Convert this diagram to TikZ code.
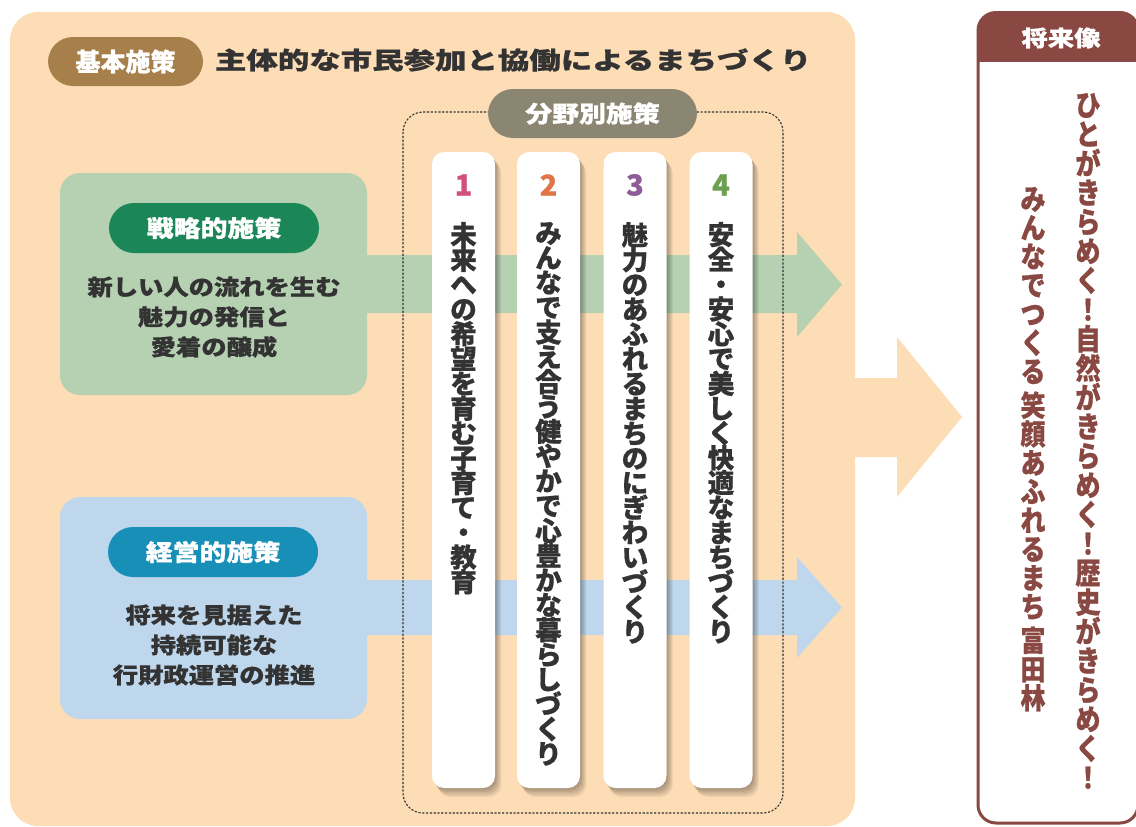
\documentclass[tikz,border=0pt]{standalone}
\usepackage{fontspec}
\usepackage{graphicx}
\setmainfont{Noto Sans CJK JP}[BoldFeatures={FakeBold=0.7}]
\definecolor{panel}{RGB}{253,221,182}
\definecolor{gbox}{RGB}{182,208,178}
\definecolor{gpill}{RGB}{27,135,88}
\definecolor{bbox}{RGB}{190,215,236}
\definecolor{bpill}{RGB}{23,143,183}
\definecolor{kpill}{RGB}{166,127,74}
\definecolor{fpill}{RGB}{138,134,114}
\definecolor{fut}{RGB}{137,73,66}
\definecolor{ink}{RGB}{51,51,51}
\definecolor{nA}{RGB}{210,80,122}
\definecolor{nB}{RGB}{224,118,72}
\definecolor{nC}{RGB}{140,92,152}
\definecolor{nD}{RGB}{108,160,80}
\makeatletter
\def\vt@end{\relax vtend}
\def\vgap{\relax vgap}
\newcommand\vtext[2]{\vbox{\baselineskip=#1\lineskiplimit=-100pt\lineskip=0pt\vt@loop#2\vt@end}}
\def\vt@loop#1{\ifx#1\vt@end\else\vt@item{#1}\expandafter\vt@loop\fi}
\def\vt@item#1{\ifx#1\vgap\vskip 4.5pt\else\hbox to 1em{\hss#1\hss}\fi}
\makeatother
\newcommand\hs[2]{\scalebox{#1}[1]{#2}}
\begin{document}
\begin{tikzpicture}[x=1pt,y=-1pt,
  every node/.style={inner sep=0pt, outer sep=0pt},
  pill/.style={rounded corners=25pt, minimum height=50pt, text=white, font=\bfseries\fontsize{23}{23}\selectfont},
  sbox/.style={rounded corners=20pt, minimum width=307pt, minimum height=222pt},
  card/.style={fill=white, rounded corners=12pt, minimum width=63pt, minimum height=636pt},
  ctext/.style={anchor=north, text=ink, font=\bfseries\fontsize{26.5}{26.5}\selectfont},
  num/.style={font=\bfseries\fontsize{29}{29}\selectfont},
  btext/.style={align=center, text=ink, font=\bfseries\fontsize{22}{30}\selectfont},
  shade/.style={black, opacity=0.05, rounded corners=12pt}]
\useasboundingbox (0,0) rectangle (1136,827);
\fill[white] (0,0) rectangle (1136,827);
% main panel
\fill[panel, rounded corners=28pt] (10,12) rectangle (855,826);
% big arrow
\fill[panel] (850,378) -- (897,378) -- (897,337) -- (962,417) -- (897,497) -- (897,457) -- (850,457) -- cycle;
% header
\node[pill, fill=kpill, minimum width=155pt, minimum height=49pt, font=\bfseries\fontsize{25}{25}\selectfont] (kp) at (125.5,61.5) {基本施策};
\node[anchor=west, text=ink, font=\bfseries\fontsize{24}{24}\selectfont] (title) at (215,60) {\hs{1.31}{主体的な市民参加と協働によるまちづくり}};
% side boxes
\node[sbox, fill=gbox] (gbx) at (213.5,284) {};
\node[sbox, fill=bbox] (bbx) at (213.5,608) {};
\fill[gbox] (360,255) -- (797,255) -- (797,232) -- (842,284.5) -- (797,337) -- (797,313) -- (360,313) -- cycle;
\fill[bbox] (360,580) -- (797,580) -- (797,557) -- (842,607.5) -- (797,658) -- (797,635) -- (360,635) -- cycle;
\node[pill, fill=gpill, minimum width=210pt] (gp) at (214,228) {\hs{1.17}{戦略的施策}};
\node[pill, fill=bpill, minimum width=210pt] (bp) at (213,552) {\hs{1.17}{経営的施策}};
\node[btext] (gt) at (214,317) {\hs{1.15}{新しい人の流れを生む}\\\hs{1.15}{魅力の発信と}\\\hs{1.15}{愛着の醸成}};
\node[btext] (bt) at (214,645) {\hs{1.15}{将来を見据えた}\\\hs{1.15}{持続可能な}\\\hs{1.15}{行財政運営の推進}};
% field frame
\draw[dash pattern=on 2.2pt off 1.6pt, line width=1.1pt, ink, rounded corners=20pt] (403,112) rectangle (783,813);
\node[pill, fill=fpill, minimum width=209pt, minimum height=49pt] (fp) at (592.5,113.5) {\hs{1.17}{分野別施策}};
% card shadows
\foreach \cx in {463.5,548.5,635,721}{
  \foreach \s in {1,...,7}{
    \fill[shade] (\cx-31.5+\s*0.9,152+\s*1.3) rectangle (\cx+31.5+\s*0.9,788+\s*1.3);
  }
}
% cards
\node[card] (c1) at (463.5,470) {};
\node[card] (c2) at (548.5,470) {};
\node[card] (c3) at (635,470) {};
\node[card] (c4) at (721,470) {};
\node[num, text=nA] (n1) at (463.5,185) {1};
\node[num, text=nB] (n2) at (548.5,185) {2};
\node[num, text=nC] (n3) at (635,185) {3};
\node[num, text=nD] (n4) at (721,185) {4};
\node[ctext] (t1) at (463.5,222) {\vtext{24.8pt}{未来への希望を育む子育て・教育}};
\node[ctext] (t2) at (548.5,222) {\vtext{24.8pt}{みんなで支え合う健やかで心豊かな暮らしづくり}};
\node[ctext] (t3) at (635,222) {\vtext{24.8pt}{魅力のあふれるまちのにぎわいづくり}};
\node[ctext] (t4) at (721,222) {\vtext{24.8pt}{安全・安心で美しく快適なまちづくり}};
% future panel
\begin{scope}
\clip[rounded corners=18pt] (978,12.5) rectangle (1138,823);
\fill[white] (970,0) rectangle (1140,830);
\fill[fut] (970,0) rectangle (1140,62);
\end{scope}
\node[draw=fut, line width=3pt, rounded corners=18pt, minimum width=160pt, minimum height=810.5pt] (fb) at (1058,417.75) {};
\node[text=white, font=\bfseries\fontsize{22}{22}\selectfont] (fh) at (1061,38) {\hs{1.2}{将来像}};
\node[anchor=north, text=fut, font=\bfseries\fontsize{25}{25}\selectfont] (v1) at (1088,93) {\scalebox{1}[1.17]{\vtext{25pt}{ひとがきらめく！自然がきらめく！歴史がきらめく！}}};
\node[anchor=north, text=fut, font=\bfseries\fontsize{25}{25}\selectfont] (v2) at (1033,187) {\scalebox{1}[1.15]{\vtext{25pt}{みんなでつくる\vgap 笑顔あふれるまち\vgap 富田林}}};
\end{tikzpicture}
\end{document}
